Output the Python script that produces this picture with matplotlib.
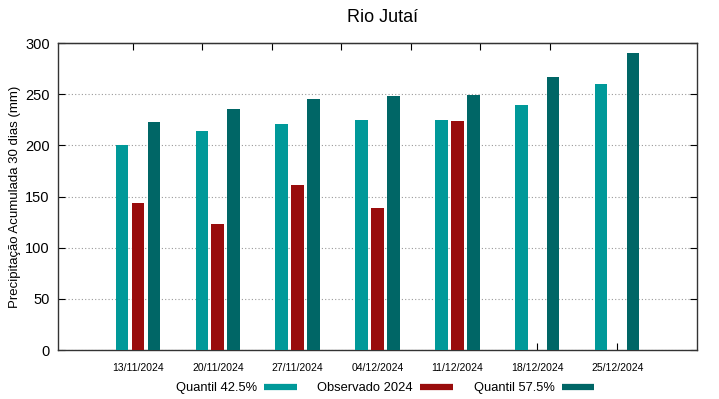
import numpy as np
import matplotlib
matplotlib.use("Agg")
from matplotlib import pyplot as plt
from matplotlib.lines import Line2D
import matplotlib.transforms as mtransforms

plt.rcParams['font.family'] = ['Liberation Sans', 'DejaVu Sans']

datas = ['13/11/2024', '20/11/2024', '27/11/2024', '04/12/2024',
         '11/12/2024', '18/12/2024', '25/12/2024']
quantil_425 = [200, 214, 221, 225, 225, 239, 260]
observado = [144, 123, 161, 138.5, 224, np.nan, np.nan]
quantil_575 = [223, 236, 245, 248, 249, 266.5, 290.5]

c_q1 = '#009999'
c_obs = '#990c0c'
c_q2 = '#006666'

fig = plt.figure(figsize=(7.19, 3.99), dpi=100)
ax = fig.add_axes([0.0807, 0.1228, 0.8887, 0.7694])

x = np.arange(len(datas))
w = 0.157
ax.bar(x - 0.2, quantil_425, w, color=c_q1, zorder=3)
ax.bar(x, observado, w, color=c_obs, zorder=3)
ax.bar(x + 0.2, quantil_575, w, color=c_q2, zorder=3)

ax.set_xlim(-1, 7)
ax.set_ylim(0, 300)
ax.set_yticks(range(0, 301, 50))
ax.set_xticks(x)
ax.set_xticklabels(datas, fontsize=7.5)
offset = mtransforms.ScaledTranslation(6/100, 0, fig.dpi_scale_trans)
for lab in ax.get_xticklabels():
    lab.set_transform(lab.get_transform() + offset)
ax.tick_params(axis='x', direction='in', length=5, pad=9, bottom=True, top=False)
ax.tick_params(axis='y', direction='in', length=5, pad=6, labelsize=10.5,
               left=True, right=True)
ax.grid(axis='y', linestyle=(0, (1, 2)), color='#999999', linewidth=0.8, zorder=0)
for s in ax.spines.values():
    s.set_linewidth(1.0)
    s.set_color('#333333')

# mirrored ticks on top (gnuplot x2 axis)
top = ax.secondary_xaxis('top')
top.set_xticks([i * 0.87 - 0.064 for i in range(7)])
top.set_xticklabels([])
top.tick_params(direction='in', length=5)

ax.set_ylabel('Precipitação Acumulada 30 dias (mm)', fontsize=9.5, labelpad=3)
fig.text(0.5325, 0.955, 'Rio Jutaí', ha='center', va='center', fontsize=13)

handles = [Line2D([], [], color=c, lw=4.5, solid_capstyle='butt')
           for c in (c_q1, c_obs, c_q2)]
ax.legend(handles, ['Quantil 42.5%', 'Observado 2024', 'Quantil 57.5%'],
          ncol=3, markerfirst=False, frameon=False, fontsize=9.3,
          loc='center', bbox_to_anchor=(0.512, -0.124),
          handlelength=2.55, handletextpad=0.55, columnspacing=1.58,
          borderpad=0, borderaxespad=0)

fig.savefig('out.png', dpi=100)
